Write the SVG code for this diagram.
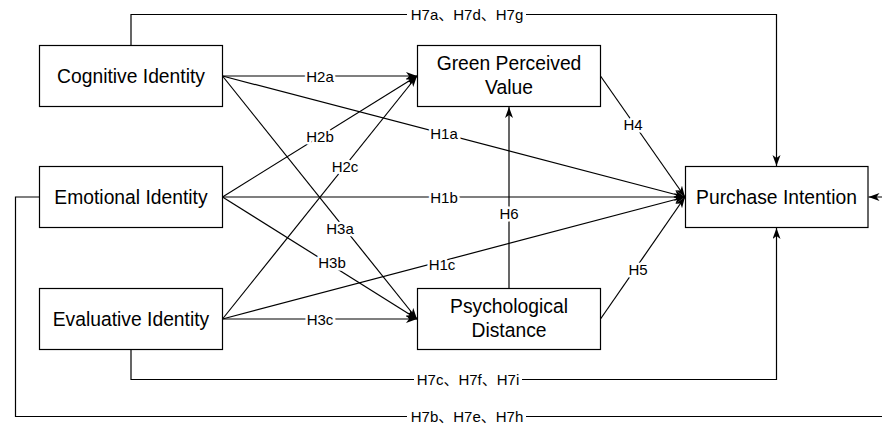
<svg xmlns="http://www.w3.org/2000/svg" width="882" height="425" viewBox="0 0 882 425">
<style>
.box{fill:#fff;stroke:#000;stroke-width:1.2}
.nt{font-family:"Liberation Sans","Noto Sans CJK SC",Arial,sans-serif;font-size:19.3px;fill:#000;text-anchor:middle}
.el{font-family:"Liberation Sans","Noto Sans CJK SC",Arial,sans-serif;font-size:15px;fill:#000;text-anchor:middle;stroke:#fff;stroke-width:5;paint-order:stroke;stroke-linejoin:round}
.bg{fill:#fff}
.ln{fill:none;stroke:#000;stroke-width:1.2}
.ar{marker-end:url(#arr)}
</style>
<defs>
<marker id="arr" markerUnits="userSpaceOnUse" markerWidth="12" markerHeight="10" refX="11" refY="4" orient="auto">
<path d="M0,0 L11,4 L0,8 L3,4 z" fill="#000"/>
</marker>
</defs>
<g id="connectors">
<path class="ln ar" d="M131,45.5 V14.5 H776.5 V166"/>
<path class="ln ar" d="M131,349.5 V379.5 H776.5 V228"/>
<path class="ln ar" d="M39.5,197 H15.5 V416.5 H895 V197 H868.5"/>
<line class="ln ar" x1="222.5" y1="76" x2="417" y2="76"/>
<line class="ln ar" x1="222.5" y1="76" x2="685" y2="197"/>
<line class="ln ar" x1="222.5" y1="76" x2="417" y2="319"/>
<line class="ln ar" x1="222.5" y1="197" x2="417" y2="76"/>
<line class="ln ar" x1="222.5" y1="197" x2="685" y2="197"/>
<line class="ln ar" x1="222.5" y1="197" x2="417" y2="319"/>
<line class="ln ar" x1="222.5" y1="319" x2="417" y2="76"/>
<line class="ln ar" x1="222.5" y1="319" x2="685" y2="197"/>
<line class="ln ar" x1="222.5" y1="319" x2="417" y2="319"/>
<line class="ln ar" x1="600.5" y1="76" x2="685" y2="197"/>
<line class="ln ar" x1="600.5" y1="319" x2="685" y2="197"/>
<line class="ln ar" x1="509" y1="288.5" x2="509" y2="107"/>
<rect class="bg" x="407" y="7" width="119" height="16"/>
<rect class="bg" x="414" y="372" width="108" height="16"/>
<rect class="bg" x="407" y="409" width="119" height="16"/>
<text class="el" x="467" y="19.5">H7a、H7d、H7g</text>
<text class="el" x="468" y="384.5">H7c、H7f、H7i</text>
<text class="el" x="467" y="421.5">H7b、H7e、H7h</text>
<text class="el" x="320" y="81.5">H2a</text>
<text class="el" x="444" y="139">H1a</text>
<text class="el" x="340" y="234">H3a</text>
<text class="el" x="320" y="141.5">H2b</text>
<text class="el" x="444" y="202.5">H1b</text>
<text class="el" x="332" y="267.5">H3b</text>
<text class="el" x="345" y="172">H2c</text>
<text class="el" x="442" y="269.5">H1c</text>
<text class="el" x="320" y="324.5">H3c</text>
<text class="el" x="633" y="129.5">H4</text>
<text class="el" x="638" y="274.5">H5</text>
<text class="el" x="509" y="218.5">H6</text>
</g>
<g id="cognitive">
<rect class="box" x="39.5" y="45.5" width="183" height="61"/>
<text class="nt" x="131" y="82.5">Cognitive Identity</text>
</g>
<g id="emotional">
<rect class="box" x="39.5" y="166.5" width="183" height="61"/>
<text class="nt" x="131" y="203.5">Emotional Identity</text>
</g>
<g id="evaluative">
<rect class="box" x="39.5" y="288.5" width="183" height="61"/>
<text class="nt" x="131" y="325.5">Evaluative Identity</text>
</g>
<g id="gpv">
<rect class="box" x="417.5" y="45.5" width="183" height="61"/>
<text class="nt" x="509" y="70">Green Perceived</text>
<text class="nt" x="509" y="94">Value</text>
</g>
<g id="pd">
<rect class="box" x="417.5" y="288.5" width="183" height="61"/>
<text class="nt" x="509" y="313">Psychological</text>
<text class="nt" x="509" y="337">Distance</text>
</g>
<g id="pi">
<rect class="box" x="685.5" y="166.5" width="182.5" height="61"/>
<text class="nt" x="776.5" y="203.5">Purchase Intention</text>
</g>
</svg>
